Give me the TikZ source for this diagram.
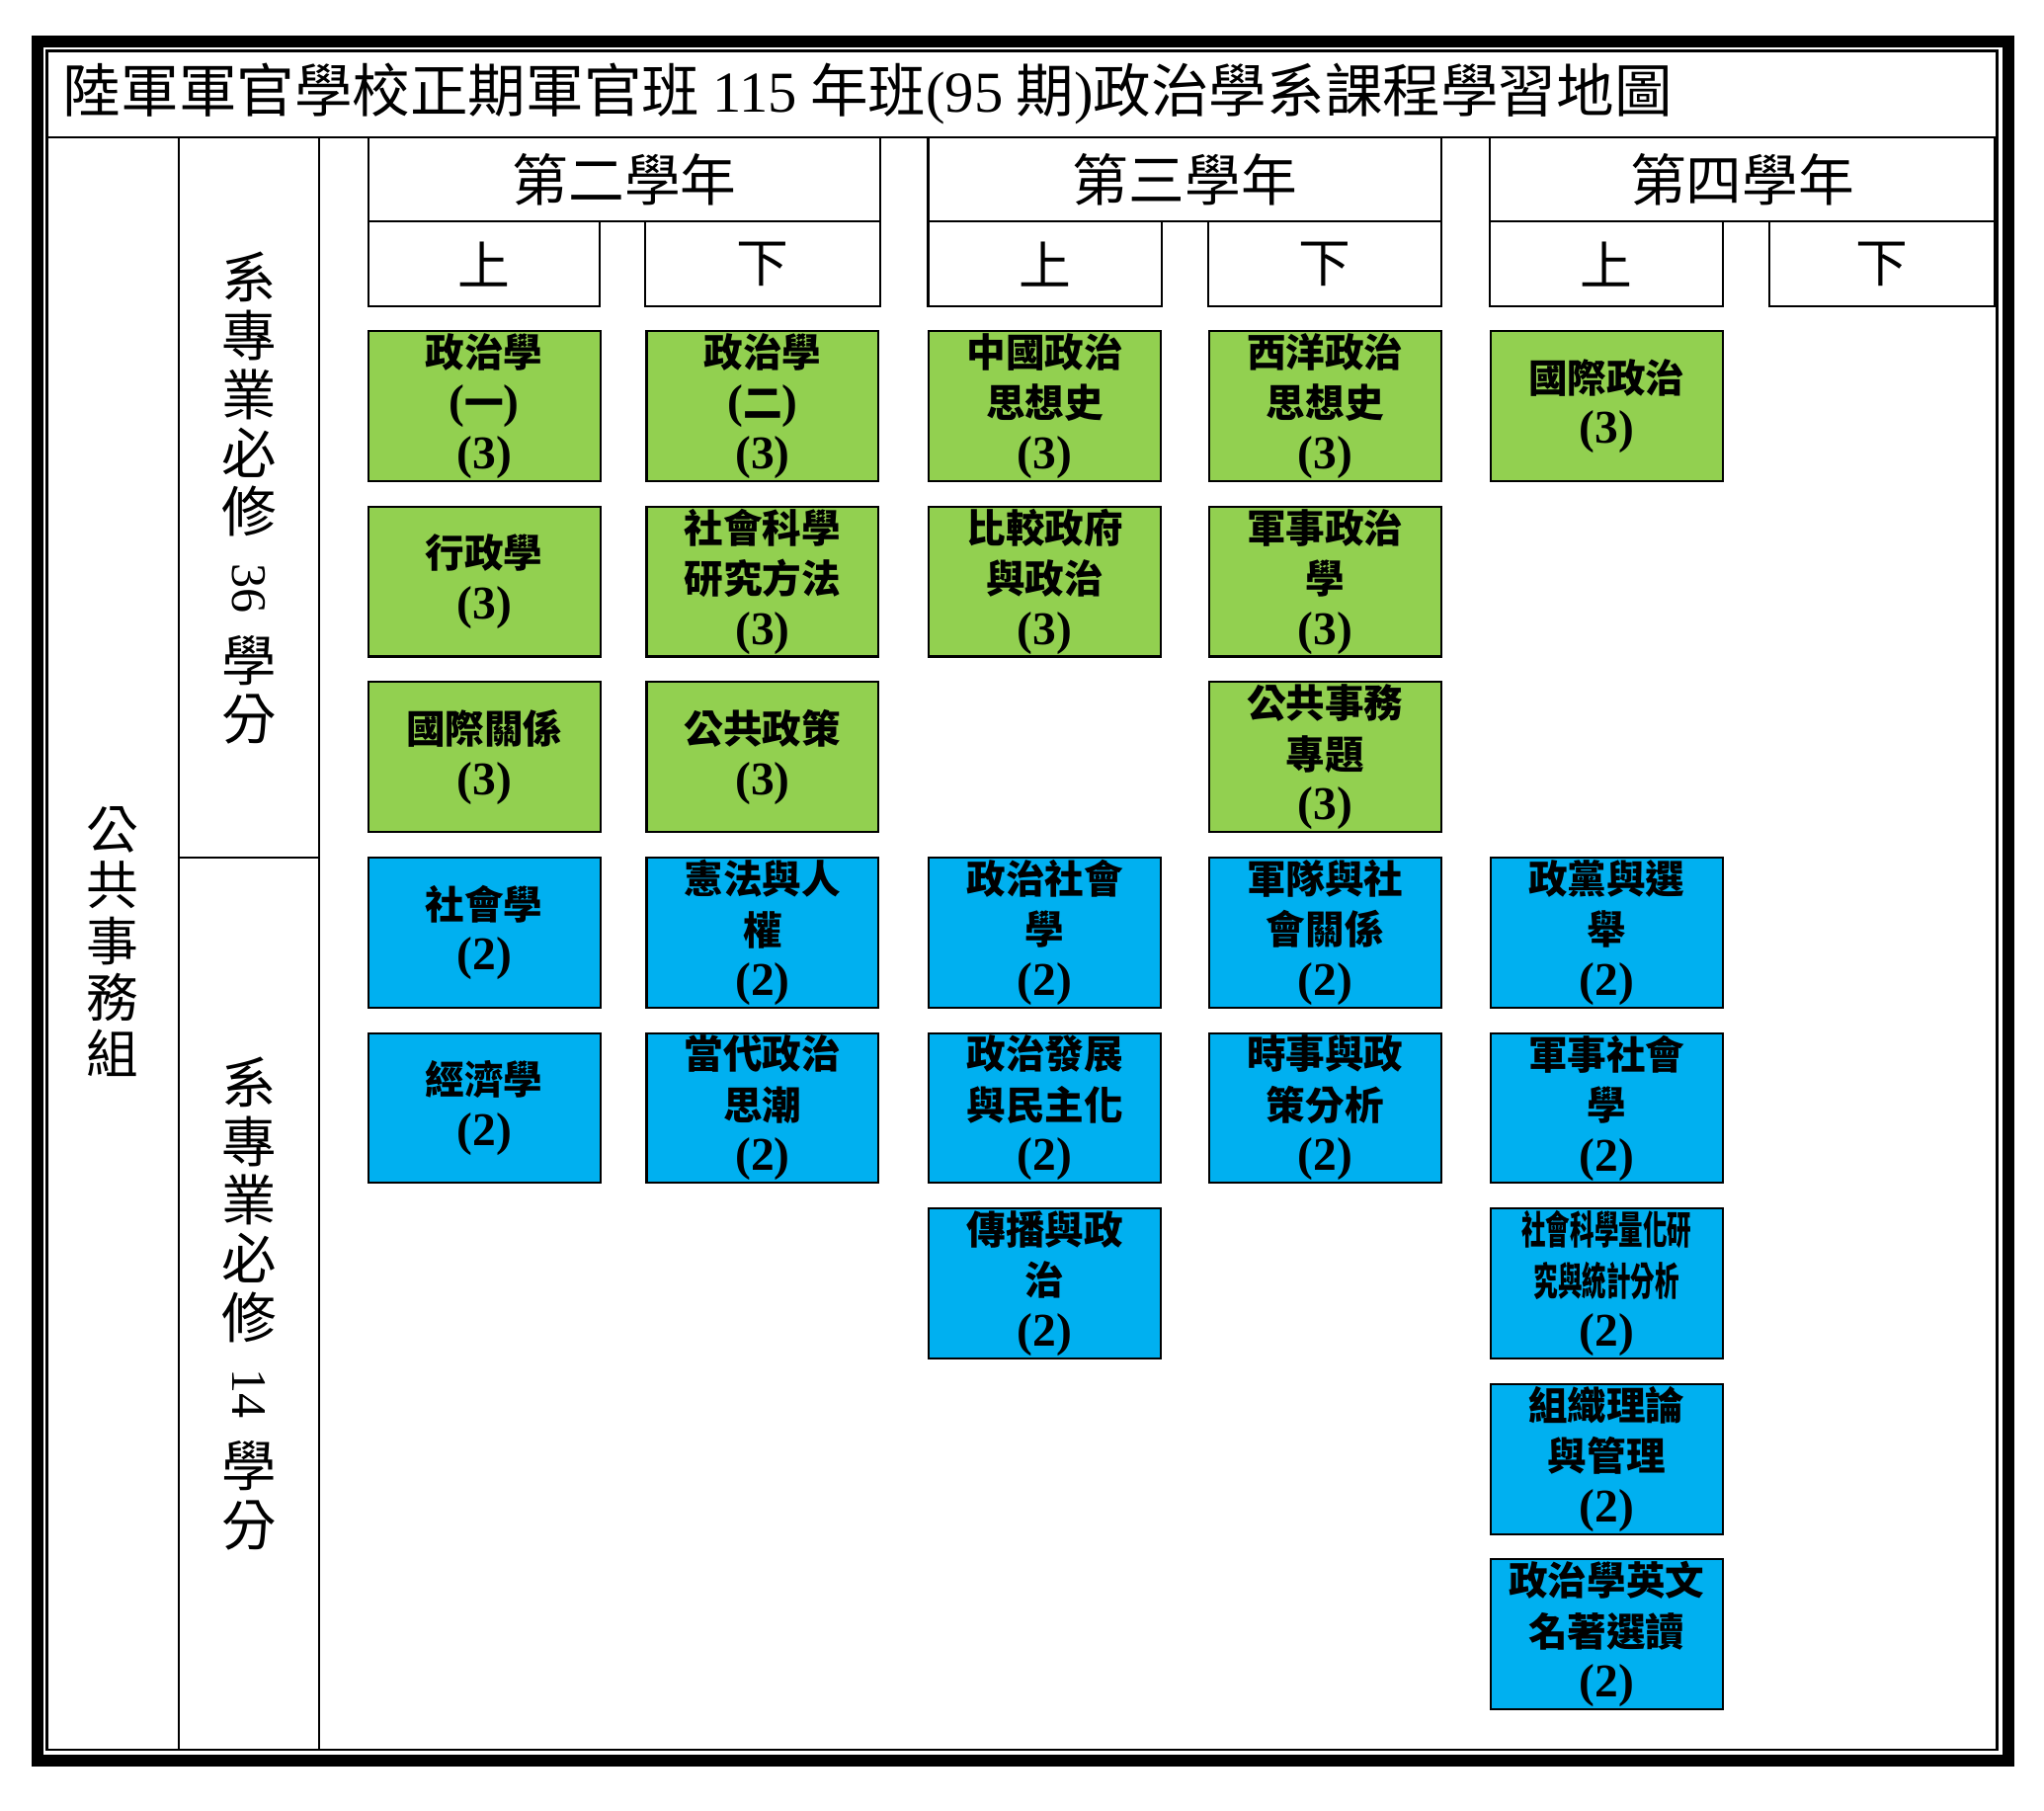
\documentclass[tikz,border=0pt]{standalone}
\usepackage{fontspec}
\setmainfont{Noto Sans CJK TC}
\newfontfamily\tnr{Liberation Serif}
\usetikzlibrary{positioning}
\definecolor{reqgreen}{HTML}{92D050}
\definecolor{reqblue}{HTML}{00B0F0}
\newcommand\cred[1]{{\tnr\fontsize{18}{19.5}\selectfont(#1)}}
\newcommand\paren[1]{{\tnr\fontsize{18}{19.5}\selectfont(}#1{\tnr\fontsize{18}{19.5}\selectfont)}}
\newcommand\squeeze[1]{\scalebox{0.62}[1]{#1}}
\newcommand\upnum[1]{\rotatebox[origin=c]{-90}{\tnr\fontsize{19}{19}\selectfont #1}}

\begin{document}
\begin{tikzpicture}[x=0.5pt,y=-0.5pt,%
	grid/.style={line width=0.8pt},
	year/.style={draw,line width=0.8pt,minimum height=32.5pt,inner sep=0pt,font=\fontsize{21.5}{21.5}\selectfont},
	term/.style={draw,line width=0.8pt,minimum height=32.5pt,inner sep=0pt,font=\fontsize{20}{20}\selectfont},
	course/.style={draw,line width=0.8pt,minimum width=89pt,minimum height=57.5pt,inner sep=0pt,align=center,font=\fontsize{15}{19.5}\selectfont\bfseries},
	req36/.style={course,fill=reqgreen},
	req14/.style={course,fill=reqblue},
	side/.style={align=center,inner sep=0pt}]

	\useasboundingbox (0,0) rectangle (1568,1389);
	% frame and table lines
	\draw[line width=4.5pt] (28.5,31.5) rectangle (1540.5,1350.5);
	\draw[line width=1pt] (36,39) rectangle (1532,1342);
	\draw[grid] (36,105) -- (1532,105);
	\draw[grid] (137,105) -- (137,1342) (245,105) -- (245,1342) (137,658) -- (245,658);

	\node[anchor=west,inner sep=0pt,font=\fontsize{22.2}{22.2}\selectfont] (title) at (48,72)
		{陸軍軍官學校正期軍官班 {\tnr 115} 年班{\tnr(95} 期{\tnr)}政治學系課程學習地圖};

	\node[side,font=\fontsize{20}{21.5}\selectfont] (group) at (86,722) {公\\共\\事\\務\\組};
	\node[side,font=\fontsize{21}{22.5}\selectfont] (sec36) at (191,382)
		{系\\專\\業\\必\\修\\[5pt]\upnum{36}\\[7pt]學\\分};
	\node[side,font=\fontsize{21}{22.5}\selectfont] (sec14) at (191,1000)
		{系\\專\\業\\必\\修\\[5pt]\upnum{14}\\[7pt]學\\分};

	\foreach \name/\cx/\w [count=\i] in {第二學年/479/392, 第三學年/909/394, 第四學年/1336.5/387}
		{ \node[year,minimum width=\w*0.5pt] (y-\i) at (\cx,137.5) {\name}; }

	\foreach \t/\cx/\w [count=\i] in {上/371.5/177, 下/585/180, 上/801.5/179,%
		下/1016.5/179, 上/1232.5/179, 下/1443.5/173}
		{ \node[term,minimum width=\w*0.5pt] (t-\i) at (\cx,202.5) {\t}; }

	\foreach \c/\r/\kind/\txt in {%
		1/1/req36/政治學\\\paren{一}\\\cred{3},
		2/1/req36/政治學\\\paren{二}\\\cred{3},
		3/1/req36/中國政治\\思想史\\\cred{3},
		4/1/req36/西洋政治\\思想史\\\cred{3},
		5/1/req36/國際政治\\\cred{3},
		1/2/req36/行政學\\\cred{3},
		2/2/req36/社會科學\\研究方法\\\cred{3},
		3/2/req36/比較政府\\與政治\\\cred{3},
		4/2/req36/軍事政治\\學\\\cred{3},
		1/3/req36/國際關係\\\cred{3},
		2/3/req36/公共政策\\\cred{3},
		4/3/req36/公共事務\\專題\\\cred{3},
		1/4/req14/社會學\\\cred{2},
		2/4/req14/憲法與人\\權\\\cred{2},
		3/4/req14/政治社會\\學\\\cred{2},
		4/4/req14/軍隊與社\\會關係\\\cred{2},
		5/4/req14/政黨與選\\舉\\\cred{2},
		1/5/req14/經濟學\\\cred{2},
		2/5/req14/當代政治\\思潮\\\cred{2},
		3/5/req14/政治發展\\與民主化\\\cred{2},
		4/5/req14/時事與政\\策分析\\\cred{2},
		5/5/req14/軍事社會\\學\\\cred{2},
		3/6/req14/傳播與政\\治\\\cred{2},
		5/6/req14/\squeeze{社會科學量化研}\\\squeeze{究與統計分析}\\\cred{2},
		5/7/req14/組織理論\\與管理\\\cred{2},
		5/8/req14/政治學英文\\名著選讀\\\cred{2}%
		} { \pgfmathsetmacro\cy{311.5+134.6*(\r-1)}
		    \node[\kind,minimum width=89pt] (c-\c-\r) at (t-\c |- 0,\cy) {\txt};% column from term header
		  }
\end{tikzpicture}
\end{document}
